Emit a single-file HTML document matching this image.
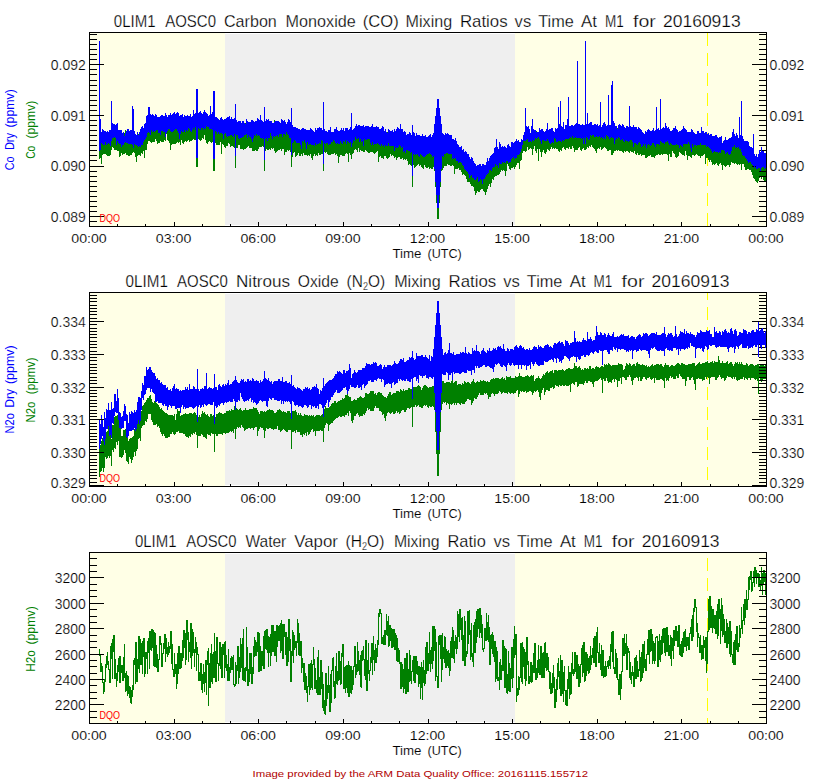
<!DOCTYPE html><html><head><meta charset="utf-8"><style>html,body{margin:0;padding:0;background:#fff;}svg{display:block;}text{font-family:"Liberation Sans",sans-serif;} .t{stroke:#fff;stroke-width:0.25px;} .l{stroke:#fff;stroke-width:0.22px;} .m{stroke:#fff;stroke-width:0.12px;}</style></head><body>
<svg width="840" height="780" viewBox="0 0 840 780" shape-rendering="crispEdges">
<rect width="840" height="780" fill="#fff"/>
<rect x="90" y="33" width="135" height="193" fill="#FFFFE6"/>
<rect x="225" y="34" width="290" height="191" fill="#EFEFEF"/>
<rect x="515" y="33" width="251" height="193" fill="#FFFFE6"/>
<line x1="707.5" y1="33" x2="707.5" y2="226" stroke="#FFFF00" stroke-width="1" stroke-dasharray="13 7" stroke-dashoffset="0"/>
<path d="M99.5 124V159M100.5 125V158M101.5 136V164M102.5 136V155M103.5 134V154M104.5 135V154M105.5 135V154M106.5 136V155M107.5 136V156M108.5 137V156M109.5 134V156M110.5 135V155M111.5 131V150M112.5 127V147M113.5 128V148M114.5 130V150M115.5 130V150M116.5 128V150M117.5 129V151M118.5 131V151M119.5 133V157M120.5 135V156M121.5 134V153M122.5 133V155M123.5 132V154M124.5 133V154M125.5 130V153M126.5 131V155M127.5 134V155M128.5 133V156M129.5 134V156M130.5 135V155M131.5 136V155M132.5 135V153M133.5 133V152M134.5 134V153M135.5 135V157M136.5 135V162M137.5 136V156M138.5 134V155M139.5 134V155M140.5 135V156M141.5 133V153M142.5 131V154M143.5 130V151M144.5 127V158M145.5 126V150M146.5 122V150M147.5 120V144M148.5 118V141M149.5 120V141M150.5 120V142M151.5 119V143M152.5 121V142M153.5 119V142M154.5 119V142M155.5 116V139M156.5 119V141M157.5 120V144M158.5 120V143M159.5 123V143M160.5 122V141M161.5 122V142M162.5 121V142M163.5 121V142M164.5 119V140M165.5 118V141M166.5 118V134M167.5 119V140M168.5 120V141M169.5 118V143M170.5 117V150M171.5 119V145M172.5 121V144M173.5 120V144M174.5 120V144M175.5 120V144M176.5 119V143M177.5 120V142M178.5 120V143M179.5 119V142M180.5 120V145M181.5 119V140M182.5 119V143M183.5 120V144M184.5 119V142M185.5 120V141M186.5 121V142M187.5 118V141M188.5 119V140M189.5 119V142M190.5 118V141M191.5 118V141M192.5 121V140M193.5 118V139M194.5 118V140M195.5 119V140M196.5 119V167M197.5 118V167M198.5 117V139M199.5 117V140M200.5 118V141M201.5 116V140M202.5 116V138M203.5 118V139M204.5 120V135M205.5 118V140M206.5 117V143M207.5 119V144M208.5 119V142M209.5 119V141M210.5 118V142M211.5 119V143M212.5 118V142M213.5 117V171M214.5 118V171M215.5 119V143M216.5 120V145M217.5 121V145M218.5 119V145M219.5 121V145M220.5 121V142M221.5 123V154M222.5 123V144M223.5 123V145M224.5 123V147M225.5 122V148M226.5 121V146M227.5 122V146M228.5 122V143M229.5 123V144M230.5 125V147M231.5 125V146M232.5 125V146M233.5 126V147M234.5 124V148M235.5 125V168M236.5 125V148M237.5 126V148M238.5 126V145M239.5 127V145M240.5 126V149M241.5 125V149M242.5 124V149M243.5 125V150M244.5 126V149M245.5 123V149M246.5 125V148M247.5 125V147M248.5 126V146M249.5 125V148M250.5 126V148M251.5 126V148M252.5 128V151M253.5 126V151M254.5 125V151M255.5 124V150M256.5 125V151M257.5 125V151M258.5 126V149M259.5 125V147M260.5 126V147M261.5 125V147M262.5 124V146M263.5 126V147M264.5 127V171M265.5 128V151M266.5 126V149M267.5 126V150M268.5 127V150M269.5 127V149M270.5 126V150M271.5 126V148M272.5 126V149M273.5 126V148M274.5 120V151M275.5 125V153M276.5 128V152M277.5 127V151M278.5 127V150M279.5 126V150M280.5 126V149M281.5 127V151M282.5 126V149M283.5 127V149M284.5 126V155M285.5 126V152M286.5 128V152M287.5 128V150M288.5 125V151M289.5 126V150M290.5 124V152M291.5 127V167M292.5 136V157M293.5 132V153M294.5 130V152M295.5 130V157M296.5 130V156M297.5 131V155M298.5 132V153M299.5 132V156M300.5 133V156M301.5 132V154M302.5 131V156M303.5 131V153M304.5 132V155M305.5 132V155M306.5 132V155M307.5 133V156M308.5 132V155M309.5 132V156M310.5 134V154M311.5 133V158M312.5 134V160M313.5 134V156M314.5 136V154M315.5 134V156M316.5 133V155M317.5 134V156M318.5 133V153M319.5 133V155M320.5 133V155M321.5 133V154M322.5 134V154M323.5 133V171M324.5 133V152M325.5 135V153M326.5 135V152M327.5 134V154M328.5 136V155M329.5 135V155M330.5 135V155M331.5 136V154M332.5 135V154M333.5 135V154M334.5 135V153M335.5 135V155M336.5 133V154M337.5 134V156M338.5 136V163M339.5 135V157M340.5 136V155M341.5 136V155M342.5 137V156M343.5 136V156M344.5 135V156M345.5 133V154M346.5 135V153M347.5 133V154M348.5 135V162M349.5 135V153M350.5 135V155M351.5 136V159M352.5 133V154M353.5 131V153M354.5 131V150M355.5 133V149M356.5 130V150M357.5 129V152M358.5 133V148M359.5 132V152M360.5 131V150M361.5 132V151M362.5 132V151M363.5 133V152M364.5 132V152M365.5 132V150M366.5 131V151M367.5 129V152M368.5 131V153M369.5 130V153M370.5 131V152M371.5 131V152M372.5 132V152M373.5 136V153M374.5 133V154M375.5 134V153M376.5 131V152M377.5 130V151M378.5 133V162M379.5 132V157M380.5 132V156M381.5 133V158M382.5 134V158M383.5 133V159M384.5 133V156M385.5 134V156M386.5 132V158M387.5 132V159M388.5 133V158M389.5 133V157M390.5 132V154M391.5 132V156M392.5 135V155M393.5 134V156M394.5 134V158M395.5 134V157M396.5 135V160M397.5 133V158M398.5 132V157M399.5 134V157M400.5 133V159M401.5 134V159M402.5 133V158M403.5 136V160M404.5 136V159M405.5 135V160M406.5 137V159M407.5 137V161M408.5 136V165M409.5 137V164M410.5 140V165M411.5 141V166M412.5 139V187M413.5 140V165M414.5 140V168M415.5 139V167M416.5 139V166M417.5 141V165M418.5 142V164M419.5 141V166M420.5 140V165M421.5 141V167M422.5 138V168M423.5 139V169M424.5 140V165M425.5 138V167M426.5 138V168M427.5 140V168M428.5 139V167M429.5 139V169M430.5 138V168M431.5 137V169M432.5 139V169M433.5 141V167M434.5 139V171M435.5 142V187M436.5 142V203M437.5 142V219M438.5 142V219M439.5 140V203M440.5 139V187M441.5 139V171M442.5 137V170M443.5 137V168M444.5 139V166M445.5 139V166M446.5 138V166M447.5 139V164M448.5 140V165M449.5 139V165M450.5 139V166M451.5 142V166M452.5 142V165M453.5 142V166M454.5 142V174M455.5 143V169M456.5 145V169M457.5 146V169M458.5 146V168M459.5 150V170M460.5 151V170M461.5 150V172M462.5 153V175M463.5 157V174M464.5 156V175M465.5 157V176M466.5 161V179M467.5 159V182M468.5 160V182M469.5 160V182M470.5 162V184M471.5 166V186M472.5 167V186M473.5 166V187M474.5 171V191M475.5 171V195M476.5 171V193M477.5 169V191M478.5 169V192M479.5 171V192M480.5 168V190M481.5 169V189M482.5 170V189M483.5 170V191M484.5 169V192M485.5 170V195M486.5 167V192M487.5 165V189M488.5 163V186M489.5 160V184M490.5 161V187M491.5 159V183M492.5 157V179M493.5 154V180M494.5 152V177M495.5 154V176M496.5 153V176M497.5 154V175M498.5 154V175M499.5 152V174M500.5 152V172M501.5 150V170M502.5 151V171M503.5 153V170M504.5 151V171M505.5 150V176M506.5 150V171M507.5 148V164M508.5 148V166M509.5 150V169M510.5 150V170M511.5 149V168M512.5 150V168M513.5 150V167M514.5 148V169M515.5 148V167M516.5 148V165M517.5 147V163M518.5 147V163M519.5 146V169M520.5 146V161M521.5 142V160M522.5 140V153M523.5 138V151M524.5 135V151M525.5 135V152M526.5 134V151M527.5 134V147M528.5 135V150M529.5 134V149M530.5 134V148M531.5 138V149M532.5 136V155M533.5 134V149M534.5 134V146M535.5 133V151M536.5 131V153M537.5 133V149M538.5 132V161M539.5 133V149M540.5 134V152M541.5 133V157M542.5 134V152M543.5 134V150M544.5 133V153M545.5 132V154M546.5 134V152M547.5 134V149M548.5 130V150M549.5 130V151M550.5 131V149M551.5 131V147M552.5 133V149M553.5 132V148M554.5 132V149M555.5 132V148M556.5 133V149M557.5 132V149M558.5 132V151M559.5 133V152M560.5 131V150M561.5 132V151M562.5 132V148M563.5 131V147M564.5 132V149M565.5 134V150M566.5 132V148M567.5 132V148M568.5 131V149M569.5 130V147M570.5 129V149M571.5 130V149M572.5 128V146M573.5 129V148M574.5 127V152M575.5 129V150M576.5 132V150M577.5 131V150M578.5 132V148M579.5 132V147M580.5 130V150M581.5 129V151M582.5 128V149M583.5 128V148M584.5 129V150M585.5 128V150M586.5 127V149M587.5 129V147M588.5 128V148M589.5 130V146M590.5 130V147M591.5 131V145M592.5 130V147M593.5 128V148M594.5 130V149M595.5 129V151M596.5 129V153M597.5 128V149M598.5 128V148M599.5 127V149M600.5 129V147M601.5 132V150M602.5 128V149M603.5 129V148M604.5 129V147M605.5 128V148M606.5 130V149M607.5 130V151M608.5 129V151M609.5 129V150M610.5 128V150M611.5 128V155M612.5 128V155M613.5 129V153M614.5 129V151M615.5 130V151M616.5 130V150M617.5 128V151M618.5 129V150M619.5 132V151M620.5 132V151M621.5 128V151M622.5 131V152M623.5 129V153M624.5 131V151M625.5 130V152M626.5 134V151M627.5 134V151M628.5 133V152M629.5 133V153M630.5 132V151M631.5 132V152M632.5 131V152M633.5 133V153M634.5 134V151M635.5 132V154M636.5 133V155M637.5 134V153M638.5 132V155M639.5 133V155M640.5 133V154M641.5 135V156M642.5 133V155M643.5 133V155M644.5 135V155M645.5 134V158M646.5 134V158M647.5 134V157M648.5 135V156M649.5 135V156M650.5 135V155M651.5 137V157M652.5 137V157M653.5 135V157M654.5 134V158M655.5 134V156M656.5 132V155M657.5 133V155M658.5 133V154M659.5 136V155M660.5 134V155M661.5 135V154M662.5 134V155M663.5 134V154M664.5 133V154M665.5 134V154M666.5 132V154M667.5 133V155M668.5 134V161M669.5 135V154M670.5 135V157M671.5 135V157M672.5 135V151M673.5 136V153M674.5 134V154M675.5 136V157M676.5 137V158M677.5 136V157M678.5 134V156M679.5 137V152M680.5 136V153M681.5 136V154M682.5 137V155M683.5 138V155M684.5 135V156M685.5 136V151M686.5 137V155M687.5 135V160M688.5 136V156M689.5 136V156M690.5 136V157M691.5 137V158M692.5 139V155M693.5 138V155M694.5 138V156M695.5 136V155M696.5 137V154M697.5 137V155M698.5 136V156M699.5 136V156M700.5 135V158M701.5 137V156M702.5 137V156M703.5 137V155M704.5 134V154M705.5 134V164M706.5 136V158M707.5 136V158M708.5 139V160M709.5 141V162M710.5 139V160M711.5 140V162M712.5 143V165M713.5 141V164M714.5 141V165M715.5 141V164M716.5 142V163M717.5 144V165M718.5 144V166M719.5 144V164M720.5 145V163M721.5 145V165M722.5 143V170M723.5 142V165M724.5 143V166M725.5 144V167M726.5 144V166M727.5 145V165M728.5 143V165M729.5 142V167M730.5 143V165M731.5 142V162M732.5 141V163M733.5 140V163M734.5 139V164M735.5 138V163M736.5 138V164M737.5 140V165M738.5 138V164M739.5 139V165M740.5 141V164M741.5 139V170M742.5 139V164M743.5 143V164M744.5 146V167M745.5 145V170M746.5 146V170M747.5 145V169M748.5 148V169M749.5 151V170M750.5 151V170M751.5 153V172M752.5 156V175M753.5 155V178M754.5 156V179M755.5 157V181M756.5 160V182M757.5 161V183M758.5 159V181M759.5 156V178M760.5 153V177M761.5 155V179M762.5 156V177M763.5 158V180M764.5 157V182M765.5 157V181" stroke="#008000" stroke-width="1" fill="none"/><path d="M767 34.5h-8M767 39.5h-8M767 44.5h-8M767 49.5h-8M767 54.5h-8M767 59.5h-8M767 64.5h-15M767 69.5h-8M767 74.5h-8M767 80.5h-8M767 85.5h-8M767 90.5h-8M767 95.5h-8M767 100.5h-8M767 105.5h-8M767 110.5h-8M767 115.5h-15M767 120.5h-8M767 125.5h-8M767 130.5h-8M767 135.5h-8M767 140.5h-8M767 145.5h-8M767 150.5h-8M767 155.5h-8M767 160.5h-8M767 166.5h-15M767 171.5h-8M767 176.5h-8M767 181.5h-8M767 186.5h-8M767 191.5h-8M767 196.5h-8M767 201.5h-8M767 206.5h-8M767 211.5h-8M767 216.5h-15M767 221.5h-8" stroke="#000" stroke-width="1" fill="none"/><path d="M99.5 41V151M100.5 119V150M101.5 132V143M102.5 129V144M103.5 130V145M104.5 131V145M105.5 131V142M106.5 132V145M107.5 131V144M108.5 132V143M109.5 130V144M110.5 130V146M111.5 101V141M112.5 123V138M113.5 124V138M114.5 124V137M115.5 125V138M116.5 124V145M117.5 123V141M118.5 130V143M119.5 130V144M120.5 130V144M121.5 130V147M122.5 133V145M123.5 132V145M124.5 136V143M125.5 133V142M126.5 131V143M127.5 129V143M128.5 129V144M129.5 131V144M130.5 130V144M131.5 130V144M132.5 106V145M133.5 109V148M134.5 131V144M135.5 134V145M136.5 135V145M137.5 132V146M138.5 135V147M139.5 132V146M140.5 129V147M141.5 127V145M142.5 126V145M143.5 128V142M144.5 124V140M145.5 123V139M146.5 116V137M147.5 115V133M148.5 107V132M149.5 107V133M150.5 114V135M151.5 115V130M152.5 114V132M153.5 115V131M154.5 116V132M155.5 114V131M156.5 115V130M157.5 117V130M158.5 117V133M159.5 117V133M160.5 116V135M161.5 115V131M162.5 115V131M163.5 116V132M164.5 116V132M165.5 113V137M166.5 115V133M167.5 117V131M168.5 115V129M169.5 115V129M170.5 113V131M171.5 115V132M172.5 114V132M173.5 113V131M174.5 112V130M175.5 114V129M176.5 113V129M177.5 112V131M178.5 113V133M179.5 116V139M180.5 115V134M181.5 115V131M182.5 114V132M183.5 117V132M184.5 115V130M185.5 116V132M186.5 116V130M187.5 115V131M188.5 116V128M189.5 116V129M190.5 114V131M191.5 117V132M192.5 116V130M193.5 110V128M194.5 114V130M195.5 113V127M196.5 89V158M197.5 89V158M198.5 113V128M199.5 112V129M200.5 111V130M201.5 113V128M202.5 114V128M203.5 112V130M204.5 110V128M205.5 112V129M206.5 113V126M207.5 114V127M208.5 116V127M209.5 115V129M210.5 106V129M211.5 114V129M212.5 112V130M213.5 91V159M214.5 91V159M215.5 117V131M216.5 117V132M217.5 118V134M218.5 119V132M219.5 120V134M220.5 118V133M221.5 117V133M222.5 119V134M223.5 120V139M224.5 119V134M225.5 119V133M226.5 118V136M227.5 117V137M228.5 117V136M229.5 116V136M230.5 119V135M231.5 117V135M232.5 119V136M233.5 119V137M234.5 118V134M235.5 104V156M236.5 120V135M237.5 122V135M238.5 121V138M239.5 121V139M240.5 121V138M241.5 123V138M242.5 121V137M243.5 121V137M244.5 123V135M245.5 124V135M246.5 119V134M247.5 121V138M248.5 122V135M249.5 122V137M250.5 122V137M251.5 120V139M252.5 120V142M253.5 121V138M254.5 122V135M255.5 121V136M256.5 121V134M257.5 118V136M258.5 119V135M259.5 120V136M260.5 115V138M261.5 120V138M262.5 121V139M263.5 122V138M264.5 107V160M265.5 121V139M266.5 119V138M267.5 120V141M268.5 119V138M269.5 121V138M270.5 121V133M271.5 121V136M272.5 123V139M273.5 123V136M274.5 122V137M275.5 121V136M276.5 121V136M277.5 121V135M278.5 121V137M279.5 122V134M280.5 123V134M281.5 119V134M282.5 120V137M283.5 121V134M284.5 120V134M285.5 122V135M286.5 124V132M287.5 122V134M288.5 119V135M289.5 120V138M290.5 122V138M291.5 108V155M292.5 125V143M293.5 127V142M294.5 127V140M295.5 127V141M296.5 128V143M297.5 128V143M298.5 129V143M299.5 129V143M300.5 130V145M301.5 129V149M302.5 128V141M303.5 128V142M304.5 129V140M305.5 129V143M306.5 130V149M307.5 130V142M308.5 130V145M309.5 130V144M310.5 128V144M311.5 129V145M312.5 130V145M313.5 131V145M314.5 132V146M315.5 128V143M316.5 130V145M317.5 128V144M318.5 128V144M319.5 127V143M320.5 128V144M321.5 128V140M322.5 130V141M323.5 102V164M324.5 129V143M325.5 131V144M326.5 131V143M327.5 132V143M328.5 130V145M329.5 130V144M330.5 127V144M331.5 132V142M332.5 132V142M333.5 132V140M334.5 129V141M335.5 129V143M336.5 127V144M337.5 130V143M338.5 131V144M339.5 131V144M340.5 130V141M341.5 128V143M342.5 130V144M343.5 128V141M344.5 131V142M345.5 128V140M346.5 128V144M347.5 128V141M348.5 130V142M349.5 129V143M350.5 127V142M351.5 113V147M352.5 130V143M353.5 129V140M354.5 128V141M355.5 126V137M356.5 124V139M357.5 126V139M358.5 125V138M359.5 125V142M360.5 126V139M361.5 126V142M362.5 126V141M363.5 125V146M364.5 127V139M365.5 126V140M366.5 126V140M367.5 126V139M368.5 126V139M369.5 127V139M370.5 127V143M371.5 126V145M372.5 124V142M373.5 127V145M374.5 127V144M375.5 127V144M376.5 126V144M377.5 127V143M378.5 127V144M379.5 129V145M380.5 129V146M381.5 128V144M382.5 126V146M383.5 127V145M384.5 131V147M385.5 129V145M386.5 132V146M387.5 133V146M388.5 129V143M389.5 130V146M390.5 131V146M391.5 131V146M392.5 130V146M393.5 132V146M394.5 129V151M395.5 131V147M396.5 129V148M397.5 127V148M398.5 128V147M399.5 129V145M400.5 124V146M401.5 129V148M402.5 129V147M403.5 132V152M404.5 131V151M405.5 132V153M406.5 135V150M407.5 134V150M408.5 134V151M409.5 132V151M410.5 133V153M411.5 135V152M412.5 125V176M413.5 132V154M414.5 133V155M415.5 136V154M416.5 133V155M417.5 135V154M418.5 135V156M419.5 135V157M420.5 136V154M421.5 136V155M422.5 134V156M423.5 136V157M424.5 136V157M425.5 135V156M426.5 137V155M427.5 137V154M428.5 136V154M429.5 135V153M430.5 134V154M431.5 137V155M432.5 135V157M433.5 133V156M434.5 124V169M435.5 116V182M436.5 108V195M437.5 99V208M438.5 99V208M439.5 108V195M440.5 116V182M441.5 124V169M442.5 133V156M443.5 134V157M444.5 135V154M445.5 133V154M446.5 134V153M447.5 133V153M448.5 134V154M449.5 135V154M450.5 135V154M451.5 135V154M452.5 139V159M453.5 139V158M454.5 140V159M455.5 138V158M456.5 141V161M457.5 144V161M458.5 145V163M459.5 147V162M460.5 147V162M461.5 146V163M462.5 150V165M463.5 149V166M464.5 152V169M465.5 151V170M466.5 152V171M467.5 154V172M468.5 154V174M469.5 157V178M470.5 159V176M471.5 157V175M472.5 158V178M473.5 161V178M474.5 163V180M475.5 164V180M476.5 166V179M477.5 165V177M478.5 165V182M479.5 164V181M480.5 164V179M481.5 166V180M482.5 164V184M483.5 164V179M484.5 165V179M485.5 165V177M486.5 162V175M487.5 158V174M488.5 161V173M489.5 158V170M490.5 156V170M491.5 155V171M492.5 154V168M493.5 153V167M494.5 148V167M495.5 147V164M496.5 139V166M497.5 147V165M498.5 149V168M499.5 142V163M500.5 144V164M501.5 147V164M502.5 146V162M503.5 147V163M504.5 146V162M505.5 147V163M506.5 148V161M507.5 145V161M508.5 144V163M509.5 146V162M510.5 147V162M511.5 142V159M512.5 142V158M513.5 143V157M514.5 142V159M515.5 141V158M516.5 139V158M517.5 141V155M518.5 140V155M519.5 142V154M520.5 142V152M521.5 139V149M522.5 140V145M523.5 135V141M524.5 132V141M525.5 108V141M526.5 126V140M527.5 127V139M528.5 126V142M529.5 129V142M530.5 133V141M531.5 126V142M532.5 119V140M533.5 129V141M534.5 130V140M535.5 130V138M536.5 132V139M537.5 132V138M538.5 132V137M539.5 128V139M540.5 130V141M541.5 129V144M542.5 129V140M543.5 131V140M544.5 132V141M545.5 131V141M546.5 129V141M547.5 123V139M548.5 130V141M549.5 129V143M550.5 129V144M551.5 128V143M552.5 128V142M553.5 131V143M554.5 132V138M555.5 128V139M556.5 129V142M557.5 128V142M558.5 107V141M559.5 124V141M560.5 101V141M561.5 126V142M562.5 127V140M563.5 122V141M564.5 129V140M565.5 125V139M566.5 125V139M567.5 119V139M568.5 97V139M569.5 126V138M570.5 126V137M571.5 125V138M572.5 125V136M573.5 126V138M574.5 125V138M575.5 124V137M576.5 123V138M577.5 61V138M578.5 124V138M579.5 124V138M580.5 125V138M581.5 125V139M582.5 124V138M583.5 125V144M584.5 125V138M585.5 41V144M586.5 124V137M587.5 113V138M588.5 124V140M589.5 123V139M590.5 122V135M591.5 122V136M592.5 125V135M593.5 125V135M594.5 124V137M595.5 124V137M596.5 125V136M597.5 124V137M598.5 126V137M599.5 125V136M600.5 102V138M601.5 127V137M602.5 125V138M603.5 123V139M604.5 122V137M605.5 124V139M606.5 126V135M607.5 125V136M608.5 95V137M609.5 125V139M610.5 125V138M611.5 85V137M612.5 81V138M613.5 121V138M614.5 123V144M615.5 126V140M616.5 126V138M617.5 129V139M618.5 125V137M619.5 124V138M620.5 125V140M621.5 126V140M622.5 124V139M623.5 125V141M624.5 127V142M625.5 128V140M626.5 126V141M627.5 126V141M628.5 127V142M629.5 106V141M630.5 126V140M631.5 127V140M632.5 127V142M633.5 125V147M634.5 127V143M635.5 127V143M636.5 127V144M637.5 129V145M638.5 127V143M639.5 128V142M640.5 129V144M641.5 130V147M642.5 132V146M643.5 133V144M644.5 134V146M645.5 131V144M646.5 132V148M647.5 130V145M648.5 129V144M649.5 130V145M650.5 131V146M651.5 131V145M652.5 130V143M653.5 128V143M654.5 131V145M655.5 130V147M656.5 107V144M657.5 129V144M658.5 128V144M659.5 130V145M660.5 99V141M661.5 129V142M662.5 128V143M663.5 127V143M664.5 128V144M665.5 123V142M666.5 126V142M667.5 128V141M668.5 127V143M669.5 129V145M670.5 131V143M671.5 131V144M672.5 130V145M673.5 128V145M674.5 128V145M675.5 126V145M676.5 129V144M677.5 130V145M678.5 132V145M679.5 131V148M680.5 131V145M681.5 130V146M682.5 129V147M683.5 126V144M684.5 128V144M685.5 129V144M686.5 130V144M687.5 132V144M688.5 132V142M689.5 132V144M690.5 132V148M691.5 129V152M692.5 130V144M693.5 132V147M694.5 133V145M695.5 134V145M696.5 134V146M697.5 131V145M698.5 131V145M699.5 133V145M700.5 133V143M701.5 127V145M702.5 131V145M703.5 131V145M704.5 133V145M705.5 132V145M706.5 132V147M707.5 134V146M708.5 133V147M709.5 135V148M710.5 134V149M711.5 134V151M712.5 136V153M713.5 136V152M714.5 136V151M715.5 135V152M716.5 135V152M717.5 137V152M718.5 138V153M719.5 137V152M720.5 137V153M721.5 136V150M722.5 143V150M723.5 141V150M724.5 140V151M725.5 137V154M726.5 140V153M727.5 140V152M728.5 139V154M729.5 138V155M730.5 138V154M731.5 137V151M732.5 132V147M733.5 129V147M734.5 134V145M735.5 136V148M736.5 133V147M737.5 135V148M738.5 138V147M739.5 117V149M740.5 135V149M741.5 101V152M742.5 136V155M743.5 139V156M744.5 141V156M745.5 141V158M746.5 141V159M747.5 141V161M748.5 142V163M749.5 146V162M750.5 147V162M751.5 147V164M752.5 148V165M753.5 134V166M754.5 154V168M755.5 156V166M756.5 154V169M757.5 157V169M758.5 154V168M759.5 150V168M760.5 152V171M761.5 147V168M762.5 151V167M763.5 151V167M764.5 153V169M765.5 153V168" stroke="#0000FF" stroke-width="1" fill="none"/>
<rect x="89.5" y="32.5" width="677" height="194" fill="none" stroke="#000" stroke-width="1"/>
<path d="M89 34.5h8M89 39.5h8M89 44.5h8M89 49.5h8M89 54.5h8M89 59.5h8M89 64.5h15M89 69.5h8M89 74.5h8M89 80.5h8M89 85.5h8M89 90.5h8M89 95.5h8M89 100.5h8M89 105.5h8M89 110.5h8M89 115.5h15M89 120.5h8M89 125.5h8M89 130.5h8M89 135.5h8M89 140.5h8M89 145.5h8M89 150.5h8M89 155.5h8M89 160.5h8M89 166.5h15M89 171.5h8M89 176.5h8M89 181.5h8M89 186.5h8M89 191.5h8M89 196.5h8M89 201.5h8M89 206.5h8M89 211.5h8M89 216.5h15M89 221.5h8M89.5 227v-5M117.5 227v-3M145.5 227v-3M174.5 227v-5M202.5 227v-3M230.5 227v-3M258.5 227v-5M286.5 227v-3M315.5 227v-3M343.5 227v-5M371.5 227v-3M399.5 227v-3M428.5 227v-5M456.5 227v-3M484.5 227v-3M512.5 227v-5M540.5 227v-3M569.5 227v-3M597.5 227v-5M625.5 227v-3M653.5 227v-3M681.5 227v-5M710.5 227v-3M738.5 227v-3M766.5 227v-5" stroke="#000" stroke-width="1" fill="none"/>
<text class="l" x="85.8" y="70.0" font-size="13.8" text-anchor="end" textLength="35" lengthAdjust="spacingAndGlyphs">0.092</text>
<text class="l" x="769.4" y="70.0" font-size="13.8" textLength="35" lengthAdjust="spacingAndGlyphs">0.092</text>
<text class="l" x="85.8" y="120.7" font-size="13.8" text-anchor="end" textLength="35" lengthAdjust="spacingAndGlyphs">0.091</text>
<text class="l" x="769.4" y="120.7" font-size="13.8" textLength="35" lengthAdjust="spacingAndGlyphs">0.091</text>
<text class="l" x="85.8" y="171.3" font-size="13.8" text-anchor="end" textLength="35" lengthAdjust="spacingAndGlyphs">0.090</text>
<text class="l" x="769.4" y="171.3" font-size="13.8" textLength="35" lengthAdjust="spacingAndGlyphs">0.090</text>
<text class="l" x="85.8" y="222.0" font-size="13.8" text-anchor="end" textLength="35" lengthAdjust="spacingAndGlyphs">0.089</text>
<text class="l" x="769.4" y="222.0" font-size="13.8" textLength="35" lengthAdjust="spacingAndGlyphs">0.089</text>
<text class="m" x="89.0" y="243" font-size="13" text-anchor="middle" textLength="35.5" lengthAdjust="spacingAndGlyphs">00:00</text>
<text class="m" x="173.6" y="243" font-size="13" text-anchor="middle" textLength="35.5" lengthAdjust="spacingAndGlyphs">03:00</text>
<text class="m" x="258.2" y="243" font-size="13" text-anchor="middle" textLength="35.5" lengthAdjust="spacingAndGlyphs">06:00</text>
<text class="m" x="342.9" y="243" font-size="13" text-anchor="middle" textLength="35.5" lengthAdjust="spacingAndGlyphs">09:00</text>
<text class="m" x="427.5" y="243" font-size="13" text-anchor="middle" textLength="35.5" lengthAdjust="spacingAndGlyphs">12:00</text>
<text class="m" x="512.1" y="243" font-size="13" text-anchor="middle" textLength="35.5" lengthAdjust="spacingAndGlyphs">15:00</text>
<text class="m" x="596.8" y="243" font-size="13" text-anchor="middle" textLength="35.5" lengthAdjust="spacingAndGlyphs">18:00</text>
<text class="m" x="681.4" y="243" font-size="13" text-anchor="middle" textLength="35.5" lengthAdjust="spacingAndGlyphs">21:00</text>
<text class="m" x="766.0" y="243" font-size="13" text-anchor="middle" textLength="35.5" lengthAdjust="spacingAndGlyphs">00:00</text>
<text class="m" x="392.4" y="258" font-size="13" textLength="29" lengthAdjust="spacingAndGlyphs">Time</text>
<text class="m" x="427.6" y="258" font-size="13" textLength="34.2" lengthAdjust="spacingAndGlyphs">(UTC)</text>
<text x="99.5" y="222" font-size="10.5" fill="#FF0000" textLength="20.5" lengthAdjust="spacingAndGlyphs">DQO</text>
<rect x="90" y="293" width="135" height="193" fill="#FFFFE6"/>
<rect x="225" y="294" width="290" height="191" fill="#EFEFEF"/>
<rect x="515" y="293" width="251" height="193" fill="#FFFFE6"/>
<line x1="707.5" y1="293" x2="707.5" y2="486" stroke="#FFFF00" stroke-width="1" stroke-dasharray="13 7" stroke-dashoffset="6"/>
<path d="M99.5 449V477M100.5 445V472M101.5 441V471M102.5 438V468M103.5 441V472M104.5 444V468M105.5 433V457M106.5 432V459M107.5 431V458M108.5 425V456M109.5 434V458M110.5 435V456M111.5 439V466M112.5 425V450M113.5 425V452M114.5 417V448M115.5 416V449M116.5 416V442M117.5 415V445M118.5 416V441M119.5 423V457M120.5 424V457M121.5 436V458M122.5 436V457M123.5 430V455M124.5 430V450M125.5 429V453M126.5 433V461M127.5 435V462M128.5 441V464M129.5 439V457M130.5 438V459M131.5 438V463M132.5 437V460M133.5 436V457M134.5 429V452M135.5 429V456M136.5 427V451M137.5 423V449M138.5 416V439M139.5 417V438M140.5 421V441M141.5 411V428M142.5 406V426M143.5 405V425M144.5 403V425M145.5 402V421M146.5 400V422M147.5 398V419M148.5 398V414M149.5 396V414M150.5 395V414M151.5 399V420M152.5 402V422M153.5 403V425M154.5 401V425M155.5 402V425M156.5 403V424M157.5 404V427M158.5 405V426M159.5 407V428M160.5 409V432M161.5 408V434M162.5 410V436M163.5 411V434M164.5 412V436M165.5 413V438M166.5 413V438M167.5 414V438M168.5 415V437M169.5 415V437M170.5 415V434M171.5 415V434M172.5 415V432M173.5 416V434M174.5 414V435M175.5 420V434M176.5 414V432M177.5 409V432M178.5 411V431M179.5 411V433M180.5 416V433M181.5 415V433M182.5 415V433M183.5 414V434M184.5 414V434M185.5 413V436M186.5 414V437M187.5 414V437M188.5 414V438M189.5 413V436M190.5 413V437M191.5 413V434M192.5 414V435M193.5 413V433M194.5 412V434M195.5 413V432M196.5 415V435M197.5 415V448M198.5 417V436M199.5 415V436M200.5 417V436M201.5 414V434M202.5 411V435M203.5 413V437M204.5 412V437M205.5 414V438M206.5 415V439M207.5 414V434M208.5 416V435M209.5 417V435M210.5 414V436M211.5 414V433M212.5 416V434M213.5 415V434M214.5 416V452M215.5 417V434M216.5 414V436M217.5 414V436M218.5 413V434M219.5 412V434M220.5 413V434M221.5 413V434M222.5 414V435M223.5 414V433M224.5 413V433M225.5 413V434M226.5 411V433M227.5 411V433M228.5 411V433M229.5 410V432M230.5 411V431M231.5 409V432M232.5 410V431M233.5 410V433M234.5 406V429M235.5 408V439M236.5 408V429M237.5 409V427M238.5 410V428M239.5 409V427M240.5 408V428M241.5 410V425M242.5 411V427M243.5 410V428M244.5 410V431M245.5 408V430M246.5 410V429M247.5 410V429M248.5 410V428M249.5 409V428M250.5 409V429M251.5 409V428M252.5 409V428M253.5 407V430M254.5 408V428M255.5 408V427M256.5 408V427M257.5 410V436M258.5 412V431M259.5 414V429M260.5 411V427M261.5 411V428M262.5 411V428M263.5 412V430M264.5 411V438M265.5 412V431M266.5 411V428M267.5 410V429M268.5 410V429M269.5 409V428M270.5 410V428M271.5 410V429M272.5 410V429M273.5 411V430M274.5 413V429M275.5 413V429M276.5 412V429M277.5 410V426M278.5 410V430M279.5 409V430M280.5 410V432M281.5 411V431M282.5 412V430M283.5 411V429M284.5 412V430M285.5 412V431M286.5 413V432M287.5 411V432M288.5 411V430M289.5 411V430M290.5 413V430M291.5 411V449M292.5 411V432M293.5 411V432M294.5 411V431M295.5 410V433M296.5 412V430M297.5 415V432M298.5 413V432M299.5 415V432M300.5 413V435M301.5 415V435M302.5 416V437M303.5 416V434M304.5 414V435M305.5 415V433M306.5 415V436M307.5 415V432M308.5 416V435M309.5 415V434M310.5 416V432M311.5 415V430M312.5 416V429M313.5 415V432M314.5 417V431M315.5 416V436M316.5 415V431M317.5 415V431M318.5 415V431M319.5 415V431M320.5 416V430M321.5 415V431M322.5 414V431M323.5 412V442M324.5 409V428M325.5 406V425M326.5 408V423M327.5 408V424M328.5 408V431M329.5 407V425M330.5 406V424M331.5 404V423M332.5 403V423M333.5 403V421M334.5 401V420M335.5 401V419M336.5 403V418M337.5 402V418M338.5 401V417M339.5 401V416M340.5 400V417M341.5 400V417M342.5 398V416M343.5 399V416M344.5 398V417M345.5 395V415M346.5 395V415M347.5 394V413M348.5 396V416M349.5 397V411M350.5 397V413M351.5 401V421M352.5 401V423M353.5 400V420M354.5 399V416M355.5 400V416M356.5 400V414M357.5 398V413M358.5 398V415M359.5 397V417M360.5 396V416M361.5 397V416M362.5 398V416M363.5 398V414M364.5 397V415M365.5 393V413M366.5 393V411M367.5 394V408M368.5 394V410M369.5 393V409M370.5 391V411M371.5 391V411M372.5 391V411M373.5 391V411M374.5 394V408M375.5 393V406M376.5 395V408M377.5 393V408M378.5 392V408M379.5 392V411M380.5 393V411M381.5 393V412M382.5 395V415M383.5 396V414M384.5 397V418M385.5 397V421M386.5 398V416M387.5 396V413M388.5 394V412M389.5 392V413M390.5 392V414M391.5 395V413M392.5 394V412M393.5 393V414M394.5 393V414M395.5 393V413M396.5 391V411M397.5 391V413M398.5 391V412M399.5 392V414M400.5 389V413M401.5 390V411M402.5 391V410M403.5 389V410M404.5 391V412M405.5 390V412M406.5 390V410M407.5 390V408M408.5 388V408M409.5 388V409M410.5 389V408M411.5 389V407M412.5 388V427M413.5 387V407M414.5 387V407M415.5 387V405M416.5 387V407M417.5 386V406M418.5 385V405M419.5 386V407M420.5 387V407M421.5 390V408M422.5 388V408M423.5 386V406M424.5 385V405M425.5 385V406M426.5 386V405M427.5 387V407M428.5 388V408M429.5 387V406M430.5 387V407M431.5 387V407M432.5 386V406M433.5 386V407M434.5 386V410M435.5 384V432M436.5 385V454M437.5 384V476M438.5 381V476M439.5 383V454M440.5 383V432M441.5 381V410M442.5 381V404M443.5 381V402M444.5 383V403M445.5 383V402M446.5 382V405M447.5 382V403M448.5 382V404M449.5 382V409M450.5 383V404M451.5 381V405M452.5 380V404M453.5 383V403M454.5 382V405M455.5 381V403M456.5 381V405M457.5 385V403M458.5 384V403M459.5 384V404M460.5 384V405M461.5 385V403M462.5 383V404M463.5 384V404M464.5 381V404M465.5 382V402M466.5 383V401M467.5 382V399M468.5 382V399M469.5 383V400M470.5 384V400M471.5 382V405M472.5 381V403M473.5 379V401M474.5 382V398M475.5 383V399M476.5 382V399M477.5 381V397M478.5 382V395M479.5 382V393M480.5 380V395M481.5 381V395M482.5 381V395M483.5 380V395M484.5 381V393M485.5 381V394M486.5 382V393M487.5 381V395M488.5 382V399M489.5 382V397M490.5 380V397M491.5 379V394M492.5 379V393M493.5 378V394M494.5 379V396M495.5 378V394M496.5 378V394M497.5 378V394M498.5 378V393M499.5 379V391M500.5 379V392M501.5 378V394M502.5 377V393M503.5 379V392M504.5 378V393M505.5 380V393M506.5 376V393M507.5 377V394M508.5 377V392M509.5 377V393M510.5 376V394M511.5 378V393M512.5 378V393M513.5 378V394M514.5 378V393M515.5 376V393M516.5 377V391M517.5 377V390M518.5 376V397M519.5 373V394M520.5 376V391M521.5 376V392M522.5 377V391M523.5 377V392M524.5 377V392M525.5 376V391M526.5 376V393M527.5 375V392M528.5 376V392M529.5 377V391M530.5 376V391M531.5 375V392M532.5 376V395M533.5 375V393M534.5 381V391M535.5 379V392M536.5 378V391M537.5 378V390M538.5 376V392M539.5 378V397M540.5 379V400M541.5 378V393M542.5 376V390M543.5 374V388M544.5 375V395M545.5 373V392M546.5 372V390M547.5 371V390M548.5 373V391M549.5 372V391M550.5 371V388M551.5 371V388M552.5 370V387M553.5 373V389M554.5 370V388M555.5 370V385M556.5 370V386M557.5 371V386M558.5 370V387M559.5 370V385M560.5 370V386M561.5 370V386M562.5 369V385M563.5 370V386M564.5 371V386M565.5 370V385M566.5 369V386M567.5 369V386M568.5 368V386M569.5 368V385M570.5 369V392M571.5 369V384M572.5 369V383M573.5 368V384M574.5 363V385M575.5 366V382M576.5 366V382M577.5 368V387M578.5 367V386M579.5 366V384M580.5 368V384M581.5 370V384M582.5 369V384M583.5 370V385M584.5 368V383M585.5 368V381M586.5 369V383M587.5 368V383M588.5 369V381M589.5 366V381M590.5 366V382M591.5 369V382M592.5 368V384M593.5 368V387M594.5 369V382M595.5 367V381M596.5 366V381M597.5 367V381M598.5 367V380M599.5 368V379M600.5 367V378M601.5 366V380M602.5 366V393M603.5 367V379M604.5 364V381M605.5 365V381M606.5 364V378M607.5 365V381M608.5 363V383M609.5 364V382M610.5 365V382M611.5 366V383M612.5 365V380M613.5 365V379M614.5 365V382M615.5 365V379M616.5 365V380M617.5 365V387M618.5 363V381M619.5 364V381M620.5 364V378M621.5 364V384M622.5 365V377M623.5 370V377M624.5 369V378M625.5 366V380M626.5 363V380M627.5 364V377M628.5 365V377M629.5 363V375M630.5 364V377M631.5 366V381M632.5 365V385M633.5 364V380M634.5 364V378M635.5 366V378M636.5 363V377M637.5 362V378M638.5 364V381M639.5 364V377M640.5 365V381M641.5 365V381M642.5 364V379M643.5 365V377M644.5 365V377M645.5 366V379M646.5 365V380M647.5 367V378M648.5 366V378M649.5 367V377M650.5 366V379M651.5 365V380M652.5 364V379M653.5 366V378M654.5 365V383M655.5 365V378M656.5 364V380M657.5 364V380M658.5 364V380M659.5 365V380M660.5 364V379M661.5 364V379M662.5 366V380M663.5 367V381M664.5 365V388M665.5 363V378M666.5 365V381M667.5 365V380M668.5 365V381M669.5 367V378M670.5 366V376M671.5 365V378M672.5 365V377M673.5 366V379M674.5 366V379M675.5 365V379M676.5 364V376M677.5 363V378M678.5 363V378M679.5 364V374M680.5 365V376M681.5 363V377M682.5 363V379M683.5 364V379M684.5 364V379M685.5 365V386M686.5 365V381M687.5 365V377M688.5 364V377M689.5 364V380M690.5 364V380M691.5 364V378M692.5 363V377M693.5 363V380M694.5 363V384M695.5 366V390M696.5 365V379M697.5 364V379M698.5 363V378M699.5 362V379M700.5 364V379M701.5 364V379M702.5 363V381M703.5 363V380M704.5 363V380M705.5 362V377M706.5 362V379M707.5 361V377M708.5 363V378M709.5 363V384M710.5 362V378M711.5 362V377M712.5 361V377M713.5 363V377M714.5 361V377M715.5 362V380M716.5 362V380M717.5 362V378M718.5 356V377M719.5 360V375M720.5 363V377M721.5 363V379M722.5 361V378M723.5 363V378M724.5 363V381M725.5 363V380M726.5 362V378M727.5 361V376M728.5 364V377M729.5 363V377M730.5 362V377M731.5 362V378M732.5 364V379M733.5 366V377M734.5 364V379M735.5 362V377M736.5 363V380M737.5 362V381M738.5 364V380M739.5 362V380M740.5 364V379M741.5 362V379M742.5 364V379M743.5 365V377M744.5 365V380M745.5 365V378M746.5 363V379M747.5 364V380M748.5 366V378M749.5 365V378M750.5 364V380M751.5 364V378M752.5 364V378M753.5 365V378M754.5 366V379M755.5 365V380M756.5 365V379M757.5 364V381M758.5 364V394M759.5 366V378M760.5 365V380M761.5 364V382M762.5 365V381M763.5 364V379M764.5 366V379M765.5 364V379" stroke="#008000" stroke-width="1" fill="none"/><path d="M767 485.5h-15M767 482.5h-8M767 478.5h-8M767 475.5h-8M767 472.5h-8M767 469.5h-8M767 465.5h-8M767 462.5h-8M767 459.5h-8M767 455.5h-8M767 452.5h-15M767 449.5h-8M767 446.5h-8M767 442.5h-8M767 439.5h-8M767 436.5h-8M767 433.5h-8M767 429.5h-8M767 426.5h-8M767 423.5h-8M767 419.5h-15M767 416.5h-8M767 413.5h-8M767 410.5h-8M767 406.5h-8M767 403.5h-8M767 400.5h-8M767 396.5h-8M767 393.5h-8M767 390.5h-8M767 387.5h-15M767 383.5h-8M767 380.5h-8M767 377.5h-8M767 373.5h-8M767 370.5h-8M767 367.5h-8M767 364.5h-8M767 360.5h-8M767 357.5h-8M767 354.5h-15M767 351.5h-8M767 347.5h-8M767 344.5h-8M767 341.5h-8M767 337.5h-8M767 334.5h-8M767 331.5h-8M767 328.5h-8M767 324.5h-8M767 321.5h-15M767 318.5h-8M767 314.5h-8M767 311.5h-8M767 308.5h-8M767 305.5h-8M767 301.5h-8M767 298.5h-8M767 295.5h-8" stroke="#000" stroke-width="1" fill="none"/><path d="M99.5 420V449M100.5 424V444M101.5 415V439M102.5 420V436M103.5 427V441M104.5 412V445M105.5 418V439M106.5 409V429M107.5 410V429M108.5 403V426M109.5 410V436M110.5 410V435M111.5 402V438M112.5 409V423M113.5 408V424M114.5 394V416M115.5 394V412M116.5 401V413M117.5 389V413M118.5 398V420M119.5 412V428M120.5 413V428M121.5 417V429M122.5 416V428M123.5 411V428M124.5 404V421M125.5 406V421M126.5 414V437M127.5 415V438M128.5 423V436M129.5 412V431M130.5 414V431M131.5 411V431M132.5 412V430M133.5 413V430M134.5 410V428M135.5 412V431M136.5 410V429M137.5 402V424M138.5 397V420M139.5 397V424M140.5 398V421M141.5 391V410M142.5 383V398M143.5 385V400M144.5 376V395M145.5 376V394M146.5 367V390M147.5 370V388M148.5 369V388M149.5 367V388M150.5 367V392M151.5 370V389M152.5 372V392M153.5 373V393M154.5 373V394M155.5 376V402M156.5 379V402M157.5 378V401M158.5 380V403M159.5 380V403M160.5 383V403M161.5 382V403M162.5 384V405M163.5 385V406M164.5 385V404M165.5 385V406M166.5 388V406M167.5 387V410M168.5 390V407M169.5 390V405M170.5 389V406M171.5 391V408M172.5 388V406M173.5 386V406M174.5 384V406M175.5 389V409M176.5 388V409M177.5 389V408M178.5 389V408M179.5 391V408M180.5 390V413M181.5 391V407M182.5 390V405M183.5 390V409M184.5 390V407M185.5 387V409M186.5 389V408M187.5 387V408M188.5 390V408M189.5 384V407M190.5 389V407M191.5 389V407M192.5 389V408M193.5 386V409M194.5 387V408M195.5 389V407M196.5 389V406M197.5 369V422M198.5 389V407M199.5 391V405M200.5 389V408M201.5 389V407M202.5 388V405M203.5 389V407M204.5 386V404M205.5 386V405M206.5 373V406M207.5 389V405M208.5 388V404M209.5 387V404M210.5 388V405M211.5 388V405M212.5 389V405M213.5 388V402M214.5 374V424M215.5 387V406M216.5 387V408M217.5 390V407M218.5 385V405M219.5 384V406M220.5 386V404M221.5 387V403M222.5 385V403M223.5 384V405M224.5 386V403M225.5 384V402M226.5 385V403M227.5 383V402M228.5 380V402M229.5 385V401M230.5 384V402M231.5 384V402M232.5 382V402M233.5 381V399M234.5 380V401M235.5 376V410M236.5 380V402M237.5 382V402M238.5 383V400M239.5 383V401M240.5 381V393M241.5 379V397M242.5 380V399M243.5 379V401M244.5 382V402M245.5 381V401M246.5 382V401M247.5 379V400M248.5 379V401M249.5 381V399M250.5 380V398M251.5 381V402M252.5 378V400M253.5 379V403M254.5 381V402M255.5 381V403M256.5 380V405M257.5 381V404M258.5 381V403M259.5 383V401M260.5 380V400M261.5 382V401M262.5 381V402M263.5 379V401M264.5 371V401M265.5 378V401M266.5 379V406M267.5 380V407M268.5 378V401M269.5 381V398M270.5 382V399M271.5 381V400M272.5 384V398M273.5 382V398M274.5 381V400M275.5 381V400M276.5 381V400M277.5 381V401M278.5 379V401M279.5 379V401M280.5 381V400M281.5 381V404M282.5 377V401M283.5 382V404M284.5 382V401M285.5 381V402M286.5 381V401M287.5 383V402M288.5 383V401M289.5 382V402M290.5 384V404M291.5 375V419M292.5 386V401M293.5 385V402M294.5 387V405M295.5 388V406M296.5 389V405M297.5 387V405M298.5 388V407M299.5 388V406M300.5 389V406M301.5 390V407M302.5 391V408M303.5 389V407M304.5 389V405M305.5 387V405M306.5 388V406M307.5 387V408M308.5 389V407M309.5 388V405M310.5 390V405M311.5 389V409M312.5 387V406M313.5 387V407M314.5 386V406M315.5 387V408M316.5 384V408M317.5 388V406M318.5 389V409M319.5 394V404M320.5 390V404M321.5 391V405M322.5 388V408M323.5 378V417M324.5 386V407M325.5 384V405M326.5 383V403M327.5 382V400M328.5 381V407M329.5 380V402M330.5 380V400M331.5 380V397M332.5 379V397M333.5 378V395M334.5 376V393M335.5 374V392M336.5 374V390M337.5 371V393M338.5 372V393M339.5 371V393M340.5 372V392M341.5 373V391M342.5 374V390M343.5 370V388M344.5 370V388M345.5 373V387M346.5 371V390M347.5 371V394M348.5 370V391M349.5 364V389M350.5 368V385M351.5 378V387M352.5 374V387M353.5 373V387M354.5 370V388M355.5 372V388M356.5 373V387M357.5 372V385M358.5 370V388M359.5 370V388M360.5 370V387M361.5 370V390M362.5 368V385M363.5 368V384M364.5 368V388M365.5 366V386M366.5 363V385M367.5 364V384M368.5 364V381M369.5 364V381M370.5 365V380M371.5 364V382M372.5 364V382M373.5 362V382M374.5 363V380M375.5 362V380M376.5 363V381M377.5 366V379M378.5 366V378M379.5 365V379M380.5 364V379M381.5 365V382M382.5 369V379M383.5 367V380M384.5 365V387M385.5 367V385M386.5 367V384M387.5 365V384M388.5 365V383M389.5 365V384M390.5 365V384M391.5 366V388M392.5 365V383M393.5 364V382M394.5 361V385M395.5 363V384M396.5 364V383M397.5 364V383M398.5 363V379M399.5 361V381M400.5 359V379M401.5 359V380M402.5 360V381M403.5 358V380M404.5 362V381M405.5 362V381M406.5 361V379M407.5 360V381M408.5 360V381M409.5 357V382M410.5 358V382M411.5 357V379M412.5 351V399M413.5 358V378M414.5 360V377M415.5 359V377M416.5 353V381M417.5 356V379M418.5 356V383M419.5 356V375M420.5 356V376M421.5 355V376M422.5 355V378M423.5 357V376M424.5 357V376M425.5 355V375M426.5 357V378M427.5 358V378M428.5 359V379M429.5 355V377M430.5 361V377M431.5 356V378M432.5 357V379M433.5 349V377M434.5 337V393M435.5 325V412M436.5 313V431M437.5 301V450M438.5 301V450M439.5 313V431M440.5 325V412M441.5 337V393M442.5 349V374M443.5 355V375M444.5 353V375M445.5 352V375M446.5 354V372M447.5 353V373M448.5 350V380M449.5 343V375M450.5 353V375M451.5 353V373M452.5 354V380M453.5 352V372M454.5 355V374M455.5 355V373M456.5 354V373M457.5 354V373M458.5 354V373M459.5 354V374M460.5 352V374M461.5 353V373M462.5 352V372M463.5 352V372M464.5 353V373M465.5 347V373M466.5 353V373M467.5 354V370M468.5 352V371M469.5 353V371M470.5 354V371M471.5 354V375M472.5 348V370M473.5 351V370M474.5 350V373M475.5 351V366M476.5 345V368M477.5 351V366M478.5 351V368M479.5 352V368M480.5 354V367M481.5 351V367M482.5 350V366M483.5 348V365M484.5 351V365M485.5 352V367M486.5 353V367M487.5 350V366M488.5 351V366M489.5 348V367M490.5 351V368M491.5 351V368M492.5 350V369M493.5 348V372M494.5 349V367M495.5 348V364M496.5 350V365M497.5 347V364M498.5 346V363M499.5 347V364M500.5 346V366M501.5 348V367M502.5 349V367M503.5 344V365M504.5 349V366M505.5 351V367M506.5 351V371M507.5 348V365M508.5 349V363M509.5 351V365M510.5 349V366M511.5 349V365M512.5 349V363M513.5 350V365M514.5 347V366M515.5 346V365M516.5 345V365M517.5 347V365M518.5 348V369M519.5 346V365M520.5 345V365M521.5 346V369M522.5 348V365M523.5 347V365M524.5 349V366M525.5 350V365M526.5 349V370M527.5 349V366M528.5 350V366M529.5 348V365M530.5 350V369M531.5 350V362M532.5 349V364M533.5 347V366M534.5 346V364M535.5 347V362M536.5 347V364M537.5 349V365M538.5 345V366M539.5 347V366M540.5 346V365M541.5 347V365M542.5 348V365M543.5 348V365M544.5 346V361M545.5 345V362M546.5 345V362M547.5 344V362M548.5 345V361M549.5 347V360M550.5 346V360M551.5 347V359M552.5 348V360M553.5 345V362M554.5 343V358M555.5 343V359M556.5 344V363M557.5 343V358M558.5 342V359M559.5 341V362M560.5 343V361M561.5 342V363M562.5 342V360M563.5 344V359M564.5 346V356M565.5 340V356M566.5 341V357M567.5 341V358M568.5 343V359M569.5 345V361M570.5 343V358M571.5 343V357M572.5 342V357M573.5 342V356M574.5 331V357M575.5 338V357M576.5 342V362M577.5 341V357M578.5 342V359M579.5 341V360M580.5 342V359M581.5 342V356M582.5 340V356M583.5 338V355M584.5 340V357M585.5 340V357M586.5 341V355M587.5 332V355M588.5 339V356M589.5 339V355M590.5 337V353M591.5 339V352M592.5 341V353M593.5 340V354M594.5 340V352M595.5 336V351M596.5 326V352M597.5 332V353M598.5 335V353M599.5 335V350M600.5 332V351M601.5 333V351M602.5 335V365M603.5 335V351M604.5 333V350M605.5 334V350M606.5 337V350M607.5 335V352M608.5 333V354M609.5 335V354M610.5 336V350M611.5 336V350M612.5 334V351M613.5 332V347M614.5 337V349M615.5 337V350M616.5 337V348M617.5 336V352M618.5 337V349M619.5 336V349M620.5 335V350M621.5 334V349M622.5 335V349M623.5 334V349M624.5 336V350M625.5 336V350M626.5 336V352M627.5 336V351M628.5 335V352M629.5 338V350M630.5 337V351M631.5 336V350M632.5 336V359M633.5 337V351M634.5 337V350M635.5 339V350M636.5 337V352M637.5 336V351M638.5 335V351M639.5 334V349M640.5 335V350M641.5 337V351M642.5 336V350M643.5 333V350M644.5 334V350M645.5 333V350M646.5 333V351M647.5 334V351M648.5 336V354M649.5 335V358M650.5 334V350M651.5 333V348M652.5 333V349M653.5 333V348M654.5 333V347M655.5 334V349M656.5 332V350M657.5 335V351M658.5 335V351M659.5 335V351M660.5 335V350M661.5 334V351M662.5 333V351M663.5 333V351M664.5 327V356M665.5 334V349M666.5 337V348M667.5 335V350M668.5 333V350M669.5 334V351M670.5 333V350M671.5 333V351M672.5 335V351M673.5 337V348M674.5 336V348M675.5 326V348M676.5 334V350M677.5 337V349M678.5 336V355M679.5 334V349M680.5 331V351M681.5 332V349M682.5 332V349M683.5 333V349M684.5 329V350M685.5 334V349M686.5 331V348M687.5 333V349M688.5 333V347M689.5 334V348M690.5 332V343M691.5 334V346M692.5 334V346M693.5 335V347M694.5 335V347M695.5 337V358M696.5 335V349M697.5 332V348M698.5 333V348M699.5 333V348M700.5 330V349M701.5 331V348M702.5 332V351M703.5 332V352M704.5 332V349M705.5 332V346M706.5 330V347M707.5 331V350M708.5 331V349M709.5 330V345M710.5 334V346M711.5 334V346M712.5 337V345M713.5 337V345M714.5 327V345M715.5 332V347M716.5 331V348M717.5 333V347M718.5 333V347M719.5 331V346M720.5 332V347M721.5 335V347M722.5 331V347M723.5 332V347M724.5 330V347M725.5 329V347M726.5 331V347M727.5 333V349M728.5 332V352M729.5 333V348M730.5 329V347M731.5 328V347M732.5 331V348M733.5 334V347M734.5 330V353M735.5 329V349M736.5 331V346M737.5 336V347M738.5 335V349M739.5 332V346M740.5 332V345M741.5 333V344M742.5 333V348M743.5 329V348M744.5 330V348M745.5 330V348M746.5 331V348M747.5 334V346M748.5 332V349M749.5 332V348M750.5 333V348M751.5 331V347M752.5 330V348M753.5 330V346M754.5 332V345M755.5 332V347M756.5 329V347M757.5 330V345M758.5 322V357M759.5 331V344M760.5 330V347M761.5 329V349M762.5 328V345M763.5 331V345M764.5 333V345M765.5 331V348" stroke="#0000FF" stroke-width="1" fill="none"/>
<rect x="89.5" y="292.5" width="677" height="194" fill="none" stroke="#000" stroke-width="1"/>
<path d="M89 485.5h15M89 482.5h8M89 478.5h8M89 475.5h8M89 472.5h8M89 469.5h8M89 465.5h8M89 462.5h8M89 459.5h8M89 455.5h8M89 452.5h15M89 449.5h8M89 446.5h8M89 442.5h8M89 439.5h8M89 436.5h8M89 433.5h8M89 429.5h8M89 426.5h8M89 423.5h8M89 419.5h15M89 416.5h8M89 413.5h8M89 410.5h8M89 406.5h8M89 403.5h8M89 400.5h8M89 396.5h8M89 393.5h8M89 390.5h8M89 387.5h15M89 383.5h8M89 380.5h8M89 377.5h8M89 373.5h8M89 370.5h8M89 367.5h8M89 364.5h8M89 360.5h8M89 357.5h8M89 354.5h15M89 351.5h8M89 347.5h8M89 344.5h8M89 341.5h8M89 337.5h8M89 334.5h8M89 331.5h8M89 328.5h8M89 324.5h8M89 321.5h15M89 318.5h8M89 314.5h8M89 311.5h8M89 308.5h8M89 305.5h8M89 301.5h8M89 298.5h8M89 295.5h8M89.5 487v-5M117.5 487v-3M145.5 487v-3M174.5 487v-5M202.5 487v-3M230.5 487v-3M258.5 487v-5M286.5 487v-3M315.5 487v-3M343.5 487v-5M371.5 487v-3M399.5 487v-3M428.5 487v-5M456.5 487v-3M484.5 487v-3M512.5 487v-5M540.5 487v-3M569.5 487v-3M597.5 487v-5M625.5 487v-3M653.5 487v-3M681.5 487v-5M710.5 487v-3M738.5 487v-3M766.5 487v-5" stroke="#000" stroke-width="1" fill="none"/>
<text class="l" x="85.8" y="327.0" font-size="13.8" text-anchor="end" textLength="35" lengthAdjust="spacingAndGlyphs">0.334</text>
<text class="l" x="769.4" y="327.0" font-size="13.8" textLength="35" lengthAdjust="spacingAndGlyphs">0.334</text>
<text class="l" x="85.8" y="359.8" font-size="13.8" text-anchor="end" textLength="35" lengthAdjust="spacingAndGlyphs">0.333</text>
<text class="l" x="769.4" y="359.8" font-size="13.8" textLength="35" lengthAdjust="spacingAndGlyphs">0.333</text>
<text class="l" x="85.8" y="392.6" font-size="13.8" text-anchor="end" textLength="35" lengthAdjust="spacingAndGlyphs">0.332</text>
<text class="l" x="769.4" y="392.6" font-size="13.8" textLength="35" lengthAdjust="spacingAndGlyphs">0.332</text>
<text class="l" x="85.8" y="425.4" font-size="13.8" text-anchor="end" textLength="35" lengthAdjust="spacingAndGlyphs">0.331</text>
<text class="l" x="769.4" y="425.4" font-size="13.8" textLength="35" lengthAdjust="spacingAndGlyphs">0.331</text>
<text class="l" x="85.8" y="458.2" font-size="13.8" text-anchor="end" textLength="35" lengthAdjust="spacingAndGlyphs">0.330</text>
<text class="l" x="769.4" y="458.2" font-size="13.8" textLength="35" lengthAdjust="spacingAndGlyphs">0.330</text>
<text class="l" x="85.8" y="487.5" font-size="13.8" text-anchor="end" textLength="35" lengthAdjust="spacingAndGlyphs">0.329</text>
<text class="l" x="769.4" y="487.5" font-size="13.8" textLength="35" lengthAdjust="spacingAndGlyphs">0.329</text>
<text class="m" x="89.0" y="503" font-size="13" text-anchor="middle" textLength="35.5" lengthAdjust="spacingAndGlyphs">00:00</text>
<text class="m" x="173.6" y="503" font-size="13" text-anchor="middle" textLength="35.5" lengthAdjust="spacingAndGlyphs">03:00</text>
<text class="m" x="258.2" y="503" font-size="13" text-anchor="middle" textLength="35.5" lengthAdjust="spacingAndGlyphs">06:00</text>
<text class="m" x="342.9" y="503" font-size="13" text-anchor="middle" textLength="35.5" lengthAdjust="spacingAndGlyphs">09:00</text>
<text class="m" x="427.5" y="503" font-size="13" text-anchor="middle" textLength="35.5" lengthAdjust="spacingAndGlyphs">12:00</text>
<text class="m" x="512.1" y="503" font-size="13" text-anchor="middle" textLength="35.5" lengthAdjust="spacingAndGlyphs">15:00</text>
<text class="m" x="596.8" y="503" font-size="13" text-anchor="middle" textLength="35.5" lengthAdjust="spacingAndGlyphs">18:00</text>
<text class="m" x="681.4" y="503" font-size="13" text-anchor="middle" textLength="35.5" lengthAdjust="spacingAndGlyphs">21:00</text>
<text class="m" x="766.0" y="503" font-size="13" text-anchor="middle" textLength="35.5" lengthAdjust="spacingAndGlyphs">00:00</text>
<text class="m" x="392.4" y="518" font-size="13" textLength="29" lengthAdjust="spacingAndGlyphs">Time</text>
<text class="m" x="427.6" y="518" font-size="13" textLength="34.2" lengthAdjust="spacingAndGlyphs">(UTC)</text>
<text x="99.5" y="482" font-size="10.5" fill="#FF0000" textLength="20.5" lengthAdjust="spacingAndGlyphs">DQO</text>
<rect x="90" y="553" width="135" height="170" fill="#FFFFE6"/>
<rect x="225" y="554" width="290" height="168" fill="#EFEFEF"/>
<rect x="515" y="553" width="251" height="170" fill="#FFFFE6"/>
<line x1="707.5" y1="553" x2="707.5" y2="723" stroke="#FFFF00" stroke-width="1" stroke-dasharray="13 7" stroke-dashoffset="15"/>
<path d="M99.5 649V656M100.5 655V672M101.5 663V672M102.5 666V683M103.5 682V694M104.5 679V692M105.5 664V682M106.5 656V668M107.5 652V665M108.5 661V670M109.5 669V683M110.5 646V683M111.5 643V659M112.5 639V679M113.5 635V652M114.5 635V679M115.5 659V679M116.5 673V687M117.5 665V681M118.5 658V672M119.5 656V683M120.5 656V683M121.5 665V673M122.5 665V681M123.5 657V681M124.5 644V678M125.5 673V692M126.5 671V691M127.5 675V696M128.5 676V694M129.5 686V698M130.5 687V703M131.5 690V704M132.5 685V697M133.5 660V690M134.5 658V665M135.5 642V684M136.5 642V682M137.5 659V682M138.5 636V669M139.5 636V673M140.5 639V665M141.5 643V665M142.5 641V674M143.5 638V657M144.5 638V677M145.5 652V674M146.5 652V659M147.5 641V674M148.5 638V653M149.5 631V669M150.5 631V650M151.5 629V651M152.5 629V648M153.5 630V666M154.5 632V667M155.5 633V667M156.5 645V668M157.5 654V672M158.5 659V672M159.5 636V660M160.5 636V645M161.5 643V667M162.5 653V667M163.5 643V654M164.5 634V649M165.5 634V662M166.5 638V654M167.5 647V657M168.5 642V655M169.5 646V653M170.5 631V649M171.5 631V664M172.5 644V670M173.5 669V677M174.5 653V677M175.5 664V674M176.5 664V689M177.5 653V684M178.5 646V674M179.5 646V669M180.5 653V669M181.5 653V668M182.5 640V661M183.5 630V658M184.5 630V648M185.5 633V665M186.5 620V660M187.5 620V640M188.5 632V662M189.5 642V652M190.5 623V658M191.5 623V669M192.5 629V656M193.5 632V653M194.5 649V667M195.5 637V653M196.5 642V671M197.5 647V655M198.5 654V681M199.5 672V681M200.5 663V681M201.5 663V690M202.5 674V693M203.5 664V684M204.5 672V692M205.5 660V683M206.5 660V695M207.5 651V665M208.5 648V706M209.5 663V688M210.5 653V688M211.5 644V682M212.5 654V684M213.5 652V678M214.5 633V678M215.5 651V682M216.5 637V682M217.5 637V664M218.5 663V681M219.5 642V666M220.5 642V669M221.5 647V678M222.5 644V678M223.5 644V655M224.5 642V678M225.5 641V668M226.5 655V671M227.5 664V681M228.5 649V681M229.5 667V681M230.5 658V673M231.5 656V670M232.5 657V670M233.5 655V685M234.5 684V687M235.5 662V686M236.5 665V684M237.5 646V671M238.5 646V684M239.5 657V678M240.5 638V672M241.5 644V668M242.5 638V680M243.5 629V681M244.5 668V681M245.5 667V682M246.5 627V671M247.5 647V686M248.5 669V686M249.5 653V682M250.5 653V674M251.5 653V684M252.5 667V684M253.5 646V674M254.5 637V657M255.5 640V656M256.5 642V656M257.5 632V652M258.5 632V672M259.5 633V672M260.5 646V671M261.5 651V671M262.5 651V666M263.5 636V669M264.5 631V669M265.5 630V649M266.5 629V650M267.5 629V653M268.5 636V667M269.5 637V653M270.5 634V666M271.5 625V656M272.5 625V652M273.5 625V652M274.5 631V656M275.5 631V656M276.5 625V662M277.5 625V647M278.5 626V641M279.5 625V641M280.5 623V653M281.5 620V651M282.5 624V659M283.5 624V659M284.5 624V637M285.5 632V655M286.5 632V666M287.5 637V666M288.5 619V662M289.5 619V651M290.5 639V682M291.5 651V682M292.5 630V656M293.5 632V663M294.5 635V650M295.5 641V648M296.5 641V656M297.5 619V643M298.5 623V655M299.5 633V656M300.5 641V656M301.5 641V673M302.5 658V668M303.5 663V682M304.5 663V690M305.5 673V690M306.5 676V693M307.5 686V702M308.5 664V687M309.5 664V695M310.5 663V690M311.5 660V688M312.5 664V690M313.5 647V665M314.5 659V689M315.5 668V689M316.5 680V693M317.5 657V695M318.5 650V695M319.5 677V695M320.5 660V695M321.5 660V689M322.5 672V708M323.5 684V711M324.5 700V714M325.5 673V715M326.5 673V706M327.5 685V699M328.5 666V693M329.5 685V712M330.5 674V712M331.5 670V703M332.5 658V671M333.5 657V687M334.5 681V699M335.5 666V698M336.5 653V684M337.5 671V685M338.5 651V681M339.5 651V680M340.5 661V685M341.5 653V684M342.5 644V657M343.5 644V689M344.5 667V689M345.5 666V693M346.5 665V688M347.5 665V693M348.5 661V697M349.5 665V697M350.5 666V693M351.5 666V694M352.5 670V690M353.5 666V685M354.5 646V667M355.5 646V678M356.5 664V675M357.5 642V672M358.5 651V671M359.5 660V675M360.5 655V687M361.5 651V688M362.5 650V661M363.5 646V660M364.5 659V676M365.5 640V680M366.5 640V691M367.5 660V691M368.5 643V674M369.5 670V681M370.5 657V671M371.5 643V663M372.5 643V675M373.5 636V660M374.5 650V671M375.5 644V663M376.5 648V663M377.5 640V657M378.5 613V645M379.5 609V617M380.5 609V614M381.5 613V644M382.5 637V644M383.5 635V645M384.5 630V645M385.5 630V645M386.5 614V635M387.5 621V636M388.5 616V647M389.5 625V646M390.5 625V641M391.5 628V648M392.5 629V648M393.5 629V647M394.5 629V650M395.5 633V650M396.5 635V661M397.5 638V662M398.5 648V662M399.5 650V664M400.5 662V689M401.5 662V689M402.5 664V687M403.5 669V693M404.5 658V689M405.5 658V694M406.5 653V694M407.5 653V692M408.5 669V692M409.5 650V682M410.5 655V681M411.5 671V684M412.5 660V672M413.5 656V681M414.5 656V683M415.5 656V683M416.5 656V674M417.5 661V675M418.5 666V687M419.5 666V684M420.5 667V699M421.5 662V688M422.5 667V700M423.5 660V683M424.5 670V686M425.5 647V684M426.5 642V674M427.5 642V671M428.5 653V671M429.5 632V664M430.5 650V672M431.5 647V664M432.5 626V669M433.5 626V661M434.5 626V651M435.5 629V681M436.5 642V677M437.5 676V688M438.5 636V688M439.5 635V645M440.5 635V659M441.5 635V682M442.5 633V670M443.5 647V659M444.5 636V663M445.5 637V668M446.5 649V668M447.5 651V666M448.5 650V668M449.5 653V676M450.5 641V671M451.5 637V658M452.5 627V658M453.5 630V659M454.5 641V663M455.5 635V649M456.5 637V654M457.5 611V649M458.5 614V637M459.5 609V642M460.5 609V630M461.5 618V640M462.5 617V661M463.5 635V661M464.5 616V666M465.5 621V666M466.5 651V657M467.5 611V654M468.5 611V644M469.5 610V635M470.5 630V660M471.5 623V657M472.5 653V662M473.5 625V667M474.5 622V653M475.5 619V653M476.5 611V643M477.5 609V637M478.5 609V629M479.5 608V638M480.5 608V633M481.5 615V638M482.5 624V650M483.5 648V652M484.5 628V649M485.5 628V641M486.5 613V641M487.5 622V640M488.5 615V642M489.5 627V665M490.5 635V665M491.5 634V649M492.5 632V654M493.5 635V657M494.5 641V662M495.5 641V682M496.5 647V679M497.5 651V681M498.5 677V681M499.5 662V690M500.5 659V680M501.5 665V680M502.5 640V671M503.5 640V671M504.5 646V688M505.5 648V688M506.5 649V693M507.5 674V694M508.5 651V691M509.5 663V692M510.5 668V692M511.5 647V679M512.5 647V688M513.5 639V678M514.5 626V658M515.5 634V655M516.5 634V702M517.5 688V696M518.5 676V695M519.5 677V690M520.5 643V678M521.5 643V682M522.5 642V684M523.5 647V667M524.5 649V679M525.5 652V686M526.5 637V681M527.5 637V665M528.5 661V684M529.5 676V684M530.5 662V682M531.5 662V683M532.5 665V682M533.5 653V673M534.5 643V673M535.5 643V680M536.5 668V680M537.5 660V678M538.5 645V673M539.5 659V675M540.5 646V675M541.5 646V678M542.5 653V678M543.5 652V678M544.5 643V678M545.5 642V668M546.5 653V671M547.5 653V670M548.5 657V672M549.5 671V689M550.5 672V694M551.5 683V694M552.5 673V693M553.5 665V688M554.5 677V708M555.5 689V708M556.5 679V702M557.5 663V690M558.5 658V677M559.5 671V689M560.5 655V696M561.5 660V696M562.5 660V694M563.5 672V702M564.5 666V691M565.5 690V705M566.5 690V706M567.5 679V706M568.5 666V689M569.5 672V699M570.5 672V695M571.5 663V694M572.5 652V674M573.5 669V676M574.5 652V674M575.5 652V672M576.5 655V679M577.5 655V679M578.5 664V687M579.5 666V687M580.5 664V683M581.5 648V665M582.5 645V677M583.5 642V673M584.5 642V682M585.5 652V681M586.5 652V676M587.5 654V671M588.5 658V674M589.5 656V673M590.5 646V670M591.5 655V665M592.5 648V658M593.5 638V663M594.5 636V663M595.5 636V667M596.5 632V667M597.5 627V653M598.5 652V663M599.5 643V663M600.5 654V670M601.5 645V676M602.5 650V676M603.5 650V678M604.5 666V677M605.5 661V677M606.5 666V676M607.5 661V667M608.5 660V669M609.5 656V666M610.5 644V669M611.5 632V652M612.5 631V662M613.5 631V669M614.5 667V674M615.5 649V674M616.5 653V678M617.5 658V680M618.5 679V695M619.5 674V695M620.5 674V700M621.5 671V689M622.5 638V672M623.5 638V656M624.5 634V656M625.5 643V654M626.5 634V670M627.5 646V670M628.5 648V653M629.5 651V678M630.5 662V680M631.5 672V684M632.5 666V676M633.5 672V687M634.5 658V687M635.5 657V679M636.5 655V679M637.5 661V677M638.5 669V677M639.5 650V671M640.5 657V682M641.5 652V681M642.5 644V678M643.5 644V673M644.5 641V668M645.5 659V671M646.5 654V671M647.5 639V655M648.5 630V655M649.5 630V664M650.5 629V652M651.5 629V651M652.5 634V664M653.5 641V661M654.5 643V664M655.5 637V661M656.5 636V638M657.5 636V667M658.5 641V667M659.5 634V660M660.5 640V662M661.5 636V655M662.5 629V654M663.5 628V643M664.5 628V653M665.5 628V656M666.5 627V652M667.5 627V652M668.5 635V656M669.5 645V656M670.5 635V659M671.5 637V666M672.5 638V651M673.5 630V659M674.5 630V646M675.5 626V641M676.5 626V641M677.5 631V647M678.5 625V647M679.5 625V655M680.5 644V656M681.5 641V657M682.5 638V657M683.5 632V653M684.5 631V647M685.5 629V647M686.5 637V651M687.5 637V646M688.5 637V650M689.5 633V650M690.5 627V634M691.5 619V641M692.5 615V641M693.5 608V637M694.5 599V612M695.5 599V608M696.5 607V632M697.5 623V647M698.5 633V638M699.5 637V653M700.5 635V653M701.5 645V660M702.5 645V659M703.5 636V659M704.5 640V648M705.5 637V661M706.5 637V673M707.5 631V664M708.5 599V632M709.5 596V630M710.5 596V628M711.5 606V628M712.5 609V633M713.5 609V628M714.5 615V629M715.5 615V634M716.5 611V634M717.5 604V639M718.5 599V636M719.5 599V619M720.5 609V644M721.5 598V631M722.5 605V637M723.5 614V635M724.5 619V643M725.5 631V643M726.5 619V648M727.5 623V648M728.5 627V644M729.5 621V654M730.5 621V657M731.5 631V655M732.5 654V663M733.5 642V665M734.5 640V665M735.5 634V665M736.5 626V650M737.5 626V652M738.5 643V652M739.5 625V647M740.5 628V638M741.5 607V629M742.5 620V634M743.5 604V621M744.5 599V625M745.5 599V618M746.5 590V610M747.5 599V610M748.5 577V600M749.5 576V590M750.5 571V580M751.5 571V592M752.5 582V591M753.5 571V583M754.5 567V587M755.5 567V577M756.5 570V584M757.5 573V578M758.5 573V587M759.5 574V587M760.5 580V591M761.5 567V586M762.5 573V595M763.5 570V584M764.5 570V582M765.5 573V595" stroke="#008000" stroke-width="1" fill="none"/><path d="M767 704.5h-15M767 698.5h-8M767 692.5h-8M767 685.5h-8M767 679.5h-15M767 673.5h-8M767 666.5h-8M767 660.5h-8M767 654.5h-15M767 647.5h-8M767 641.5h-8M767 635.5h-8M767 628.5h-15M767 622.5h-8M767 616.5h-8M767 609.5h-8M767 603.5h-15M767 596.5h-8M767 590.5h-8M767 584.5h-8M767 577.5h-15M767 571.5h-8M767 565.5h-8M767 558.5h-8M767 711.5h-8M767 717.5h-8" stroke="#000" stroke-width="1" fill="none"/>
<rect x="89.5" y="552.5" width="677" height="171" fill="none" stroke="#000" stroke-width="1"/>
<path d="M89 704.5h15M89 698.5h8M89 692.5h8M89 685.5h8M89 679.5h15M89 673.5h8M89 666.5h8M89 660.5h8M89 654.5h15M89 647.5h8M89 641.5h8M89 635.5h8M89 628.5h15M89 622.5h8M89 616.5h8M89 609.5h8M89 603.5h15M89 596.5h8M89 590.5h8M89 584.5h8M89 577.5h15M89 571.5h8M89 565.5h8M89 558.5h8M89 711.5h8M89 717.5h8M89.5 724v-5M117.5 724v-3M145.5 724v-3M174.5 724v-5M202.5 724v-3M230.5 724v-3M258.5 724v-5M286.5 724v-3M315.5 724v-3M343.5 724v-5M371.5 724v-3M399.5 724v-3M428.5 724v-5M456.5 724v-3M484.5 724v-3M512.5 724v-5M540.5 724v-3M569.5 724v-3M597.5 724v-5M625.5 724v-3M653.5 724v-3M681.5 724v-5M710.5 724v-3M738.5 724v-3M766.5 724v-5" stroke="#000" stroke-width="1" fill="none"/>
<text class="l" x="85.8" y="583.4" font-size="13.8" text-anchor="end" textLength="31" lengthAdjust="spacingAndGlyphs">3200</text>
<text class="l" x="769.4" y="583.4" font-size="13.8" textLength="31" lengthAdjust="spacingAndGlyphs">3200</text>
<text class="l" x="85.8" y="608.8" font-size="13.8" text-anchor="end" textLength="31" lengthAdjust="spacingAndGlyphs">3000</text>
<text class="l" x="769.4" y="608.8" font-size="13.8" textLength="31" lengthAdjust="spacingAndGlyphs">3000</text>
<text class="l" x="85.8" y="634.2" font-size="13.8" text-anchor="end" textLength="31" lengthAdjust="spacingAndGlyphs">2800</text>
<text class="l" x="769.4" y="634.2" font-size="13.8" textLength="31" lengthAdjust="spacingAndGlyphs">2800</text>
<text class="l" x="85.8" y="659.6" font-size="13.8" text-anchor="end" textLength="31" lengthAdjust="spacingAndGlyphs">2600</text>
<text class="l" x="769.4" y="659.6" font-size="13.8" textLength="31" lengthAdjust="spacingAndGlyphs">2600</text>
<text class="l" x="85.8" y="685.0" font-size="13.8" text-anchor="end" textLength="31" lengthAdjust="spacingAndGlyphs">2400</text>
<text class="l" x="769.4" y="685.0" font-size="13.8" textLength="31" lengthAdjust="spacingAndGlyphs">2400</text>
<text class="l" x="85.8" y="710.4" font-size="13.8" text-anchor="end" textLength="31" lengthAdjust="spacingAndGlyphs">2200</text>
<text class="l" x="769.4" y="710.4" font-size="13.8" textLength="31" lengthAdjust="spacingAndGlyphs">2200</text>
<text class="m" x="89.0" y="740" font-size="13" text-anchor="middle" textLength="35.5" lengthAdjust="spacingAndGlyphs">00:00</text>
<text class="m" x="173.6" y="740" font-size="13" text-anchor="middle" textLength="35.5" lengthAdjust="spacingAndGlyphs">03:00</text>
<text class="m" x="258.2" y="740" font-size="13" text-anchor="middle" textLength="35.5" lengthAdjust="spacingAndGlyphs">06:00</text>
<text class="m" x="342.9" y="740" font-size="13" text-anchor="middle" textLength="35.5" lengthAdjust="spacingAndGlyphs">09:00</text>
<text class="m" x="427.5" y="740" font-size="13" text-anchor="middle" textLength="35.5" lengthAdjust="spacingAndGlyphs">12:00</text>
<text class="m" x="512.1" y="740" font-size="13" text-anchor="middle" textLength="35.5" lengthAdjust="spacingAndGlyphs">15:00</text>
<text class="m" x="596.8" y="740" font-size="13" text-anchor="middle" textLength="35.5" lengthAdjust="spacingAndGlyphs">18:00</text>
<text class="m" x="681.4" y="740" font-size="13" text-anchor="middle" textLength="35.5" lengthAdjust="spacingAndGlyphs">21:00</text>
<text class="m" x="766.0" y="740" font-size="13" text-anchor="middle" textLength="35.5" lengthAdjust="spacingAndGlyphs">00:00</text>
<text class="m" x="392.4" y="755" font-size="13" textLength="29" lengthAdjust="spacingAndGlyphs">Time</text>
<text class="m" x="427.6" y="755" font-size="13" textLength="34.2" lengthAdjust="spacingAndGlyphs">(UTC)</text>
<text x="99.5" y="719" font-size="10.5" fill="#FF0000" textLength="20.5" lengthAdjust="spacingAndGlyphs">DQO</text>
<text class="t" x="113.8" y="27" font-size="17" textLength="41.8" lengthAdjust="spacingAndGlyphs">0LIM1</text>
<text class="t" x="165.2" y="27" font-size="17" textLength="50.8" lengthAdjust="spacingAndGlyphs">AOSC0</text>
<text class="t" x="224.0" y="27" font-size="17" textLength="52.8" lengthAdjust="spacingAndGlyphs">Carbon</text>
<text class="t" x="285.6" y="27" font-size="17" textLength="70.2" lengthAdjust="spacingAndGlyphs">Monoxide</text>
<text class="t" x="362.8" y="27" font-size="17" textLength="35.9" lengthAdjust="spacingAndGlyphs">(CO)</text>
<text class="t" x="405.6" y="27" font-size="17" textLength="46.6" lengthAdjust="spacingAndGlyphs">Mixing</text>
<text class="t" x="459.9" y="27" font-size="17" textLength="47.7" lengthAdjust="spacingAndGlyphs">Ratios</text>
<text class="t" x="514.6" y="27" font-size="17" textLength="16.6" lengthAdjust="spacingAndGlyphs">vs</text>
<text class="t" x="538.2" y="27" font-size="17" textLength="35.6" lengthAdjust="spacingAndGlyphs">Time</text>
<text class="t" x="581.1" y="27" font-size="17" textLength="15.9" lengthAdjust="spacingAndGlyphs">At</text>
<text class="t" x="604.9" y="27" font-size="17" textLength="18.8" lengthAdjust="spacingAndGlyphs">M1</text>
<text class="t" x="633.0" y="27" font-size="17" textLength="22.8" lengthAdjust="spacingAndGlyphs">for</text>
<text class="t" x="663.0" y="27" font-size="17" textLength="77.8" lengthAdjust="spacingAndGlyphs">20160913</text>
<text class="t" x="125.6" y="287" font-size="17" textLength="42.3" lengthAdjust="spacingAndGlyphs">0LIM1</text>
<text class="t" x="177.1" y="287" font-size="17" textLength="50.8" lengthAdjust="spacingAndGlyphs">AOSC0</text>
<text class="t" x="236.0" y="287" font-size="17" textLength="54.1" lengthAdjust="spacingAndGlyphs">Nitrous</text>
<text class="t" x="297.8" y="287" font-size="17" textLength="40.9" lengthAdjust="spacingAndGlyphs">Oxide</text>
<text class="t" x="346.6" y="287" font-size="17" textLength="38.5" lengthAdjust="spacingAndGlyphs">(N<tspan font-size="10" dy="2.5">2</tspan><tspan dy="-2.5">O)</tspan></text>
<text class="t" x="394.2" y="287" font-size="17" textLength="46.6" lengthAdjust="spacingAndGlyphs">Mixing</text>
<text class="t" x="448.5" y="287" font-size="17" textLength="47.7" lengthAdjust="spacingAndGlyphs">Ratios</text>
<text class="t" x="503.2" y="287" font-size="17" textLength="16.6" lengthAdjust="spacingAndGlyphs">vs</text>
<text class="t" x="526.8" y="287" font-size="17" textLength="35.6" lengthAdjust="spacingAndGlyphs">Time</text>
<text class="t" x="569.7" y="287" font-size="17" textLength="15.9" lengthAdjust="spacingAndGlyphs">At</text>
<text class="t" x="593.5" y="287" font-size="17" textLength="18.8" lengthAdjust="spacingAndGlyphs">M1</text>
<text class="t" x="621.6" y="287" font-size="17" textLength="22.8" lengthAdjust="spacingAndGlyphs">for</text>
<text class="t" x="651.6" y="287" font-size="17" textLength="77.8" lengthAdjust="spacingAndGlyphs">20160913</text>
<text class="t" x="134.9" y="547" font-size="17" textLength="41.6" lengthAdjust="spacingAndGlyphs">0LIM1</text>
<text class="t" x="186.3" y="547" font-size="17" textLength="50.2" lengthAdjust="spacingAndGlyphs">AOSC0</text>
<text class="t" x="245.4" y="547" font-size="17" textLength="40.9" lengthAdjust="spacingAndGlyphs">Water</text>
<text class="t" x="294.2" y="547" font-size="17" textLength="43.7" lengthAdjust="spacingAndGlyphs">Vapor</text>
<text class="t" x="345.6" y="547" font-size="17" textLength="38.8" lengthAdjust="spacingAndGlyphs">(H<tspan font-size="10" dy="2.5">2</tspan><tspan dy="-2.5">O)</tspan></text>
<text class="t" x="393.9" y="547" font-size="17" textLength="45.7" lengthAdjust="spacingAndGlyphs">Mixing</text>
<text class="t" x="447.5" y="547" font-size="17" textLength="38.3" lengthAdjust="spacingAndGlyphs">Ratio</text>
<text class="t" x="493.4" y="547" font-size="17" textLength="16.6" lengthAdjust="spacingAndGlyphs">vs</text>
<text class="t" x="517.0" y="547" font-size="17" textLength="35.6" lengthAdjust="spacingAndGlyphs">Time</text>
<text class="t" x="559.9" y="547" font-size="17" textLength="15.9" lengthAdjust="spacingAndGlyphs">At</text>
<text class="t" x="583.7" y="547" font-size="17" textLength="18.8" lengthAdjust="spacingAndGlyphs">M1</text>
<text class="t" x="611.8" y="547" font-size="17" textLength="22.8" lengthAdjust="spacingAndGlyphs">for</text>
<text class="t" x="641.8" y="547" font-size="17" textLength="77.8" lengthAdjust="spacingAndGlyphs">20160913</text>
<text transform="translate(14,170.3) rotate(-90)" font-size="12.5" fill="#0000FF" textLength="13.7" lengthAdjust="spacingAndGlyphs">Co</text>
<text transform="translate(14,150.1) rotate(-90)" font-size="12.5" fill="#0000FF" textLength="17.1" lengthAdjust="spacingAndGlyphs">Dry</text>
<text transform="translate(14,127.6) rotate(-90)" font-size="12.5" fill="#0000FF" textLength="38.5" lengthAdjust="spacingAndGlyphs">(ppmv)</text>
<text transform="translate(35,158.8) rotate(-90)" font-size="12.5" fill="#008000" textLength="13.1" lengthAdjust="spacingAndGlyphs">Co</text>
<text transform="translate(35,138.6) rotate(-90)" font-size="12.5" fill="#008000" textLength="37.9" lengthAdjust="spacingAndGlyphs">(ppmv)</text>
<text transform="translate(14,433.5) rotate(-90)" font-size="12.5" fill="#0000FF" textLength="20.3" lengthAdjust="spacingAndGlyphs">N2o</text>
<text transform="translate(14,407.8) rotate(-90)" font-size="12.5" fill="#0000FF" textLength="18.9" lengthAdjust="spacingAndGlyphs">Dry</text>
<text transform="translate(14,384.1) rotate(-90)" font-size="12.5" fill="#0000FF" textLength="38.8" lengthAdjust="spacingAndGlyphs">(ppmv)</text>
<text transform="translate(35,422.5) rotate(-90)" font-size="12.5" fill="#008000" textLength="20.8" lengthAdjust="spacingAndGlyphs">N2o</text>
<text transform="translate(35,394.3) rotate(-90)" font-size="12.5" fill="#008000" textLength="36.8" lengthAdjust="spacingAndGlyphs">(ppmv)</text>
<text transform="translate(35,671.8) rotate(-90)" font-size="12.5" fill="#008000" textLength="21.5" lengthAdjust="spacingAndGlyphs">H2o</text>
<text transform="translate(35,644.6) rotate(-90)" font-size="12.5" fill="#008000" textLength="38.4" lengthAdjust="spacingAndGlyphs">(ppmv)</text>
<text x="252.5" y="776.6" font-size="9.2" fill="#B00000" textLength="335.5" lengthAdjust="spacingAndGlyphs">Image provided by the ARM Data Quality Office: 20161115.155712</text>
</svg></body></html>
